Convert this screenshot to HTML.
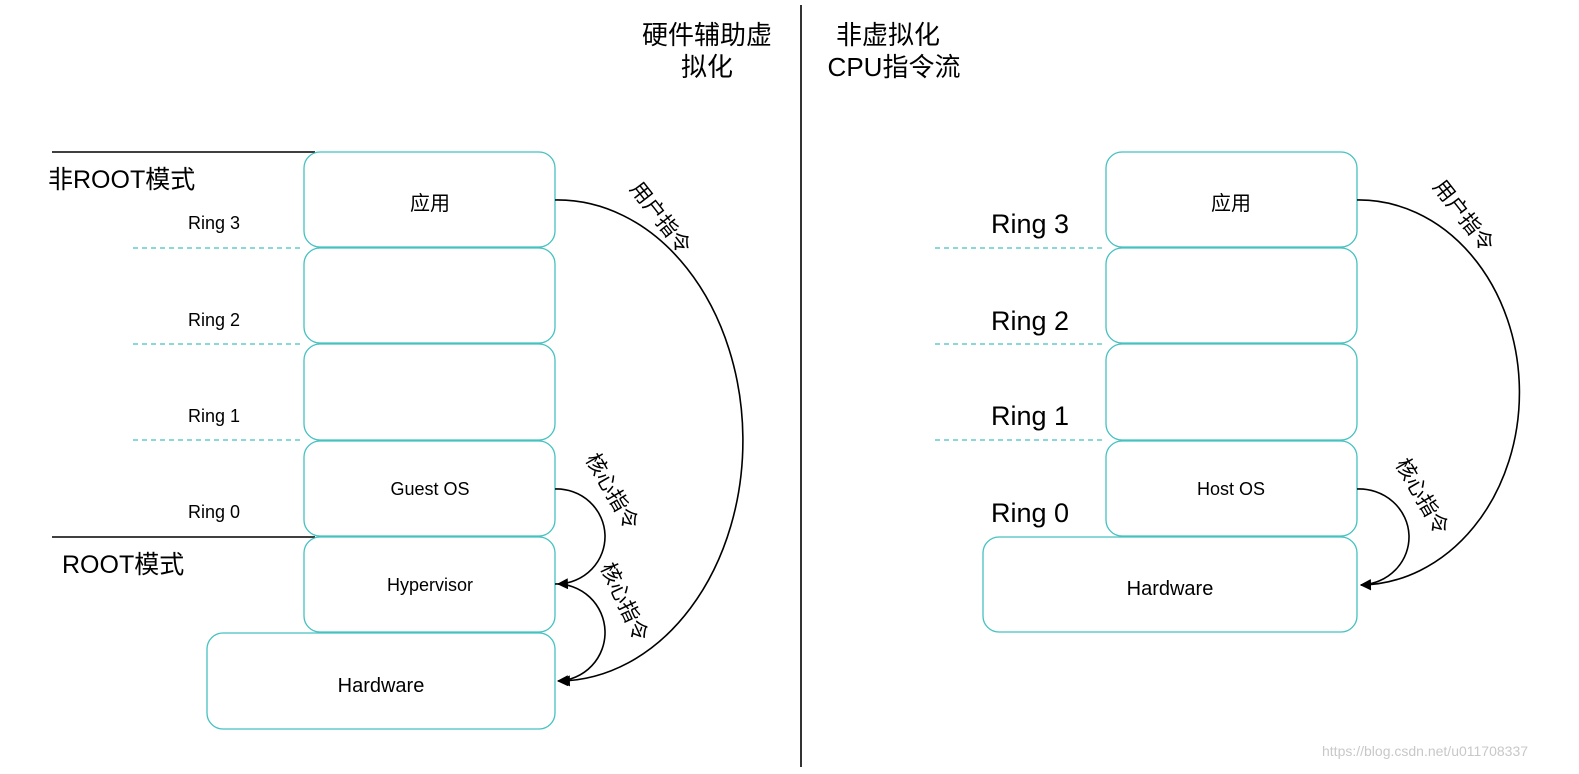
<!DOCTYPE html>
<html><head><meta charset="utf-8"><style>
html,body{margin:0;padding:0;background:#fff;}
svg{display:block;}
text{font-family:"Liberation Sans","Noto Sans CJK SC",sans-serif;fill:#000;}
</style></head><body>
<svg width="1579" height="774" viewBox="0 0 1579 774" xmlns="http://www.w3.org/2000/svg">
<defs><marker id="ah" viewBox="0 0 10 10" refX="9" refY="5" markerWidth="13" markerHeight="11" orient="auto-start-reverse" markerUnits="userSpaceOnUse"><path d="M0,0 L10,5 L0,10 z" fill="#000"/></marker></defs>
<line x1="801" y1="5" x2="801" y2="767" stroke="#333" stroke-width="2"/>
<g font-size="26" text-anchor="middle">
<text x="707" y="44">硬件辅助虚</text><text x="707" y="76">拟化</text>
<text x="888" y="44">非虚拟化</text><text x="894" y="76">CPU指令流</text>
</g>
<line x1="52" y1="152" x2="315" y2="152" stroke="#000" stroke-width="1.5"/>
<line x1="52" y1="537" x2="315" y2="537" stroke="#000" stroke-width="1.5"/>
<text x="48" y="188" font-size="25">非ROOT模式</text>
<text x="62" y="573" font-size="25">ROOT模式</text>
<g stroke="#45c1c1" stroke-width="1.3" stroke-dasharray="5,4">
<line x1="133" y1="248" x2="304" y2="248"/><line x1="133" y1="344" x2="304" y2="344"/><line x1="133" y1="440" x2="304" y2="440"/>
<line x1="935" y1="248" x2="1106" y2="248"/><line x1="935" y1="344" x2="1106" y2="344"/><line x1="935" y1="440" x2="1106" y2="440"/>
</g>
<g font-size="18"><text x="188" y="229">Ring 3</text><text x="188" y="326">Ring 2</text><text x="188" y="422">Ring 1</text><text x="188" y="518">Ring 0</text></g>
<g font-size="27"><text x="991" y="233">Ring 3</text><text x="991" y="330">Ring 2</text><text x="991" y="425">Ring 1</text><text x="991" y="522">Ring 0</text></g>
<g fill="#fff" stroke="#45c1c1" stroke-width="1.3">
<rect x="304" y="152" width="251" height="95" rx="16"/>
<rect x="304" y="248" width="251" height="95" rx="16"/>
<rect x="304" y="344" width="251" height="96" rx="16"/>
<rect x="304" y="441" width="251" height="95" rx="16"/>
<rect x="304" y="537" width="251" height="95" rx="16"/>
<rect x="207" y="633" width="348" height="96" rx="16"/>
<rect x="1106" y="152" width="251" height="95" rx="16"/>
<rect x="1106" y="248" width="251" height="95" rx="16"/>
<rect x="1106" y="344" width="251" height="96" rx="16"/>
<rect x="1106" y="441" width="251" height="95" rx="16"/>
<rect x="983" y="537" width="374" height="95" rx="16"/>
</g>
<g text-anchor="middle">
<text x="430" y="210" font-size="20">应用</text>
<text x="430" y="495" font-size="18">Guest OS</text>
<text x="430" y="591" font-size="18">Hypervisor</text>
<text x="381" y="692" font-size="20">Hardware</text>
<text x="1231" y="210" font-size="20">应用</text>
<text x="1231" y="495" font-size="18">Host OS</text>
<text x="1170" y="595" font-size="20">Hardware</text>
</g>
<g fill="none" stroke="#000" stroke-width="1.6">
<path d="M555,200 A185,240 0 0 1 560,681" marker-end="url(#ah)"/>
<path d="M555,489 A48,47 0 0 1 558,584" marker-end="url(#ah)"/>
<path d="M555,584 A48,48 0 0 1 558,681" marker-end="url(#ah)"/>
<path d="M1357,200 A160,192 0 0 1 1361,585" marker-end="url(#ah)"/>
<path d="M1357,489 A50,48 0 0 1 1361,585" marker-end="url(#ah)"/>
</g>
<g font-size="21" text-anchor="middle">
<text transform="translate(655,222) rotate(52)">用户指令</text>
<text transform="translate(606,495) rotate(60)">核心指令</text>
<text transform="translate(618,605) rotate(65)">核心指令</text>
<text transform="translate(1458,220) rotate(52)">用户指令</text>
<text transform="translate(1416,500) rotate(60)">核心指令</text>
</g>
<text x="1322" y="756" font-size="14" fill="#c8c8c8" style="fill:#c8c8c8">https://blog.csdn.net/u011708337</text>
</svg>
</body></html>
